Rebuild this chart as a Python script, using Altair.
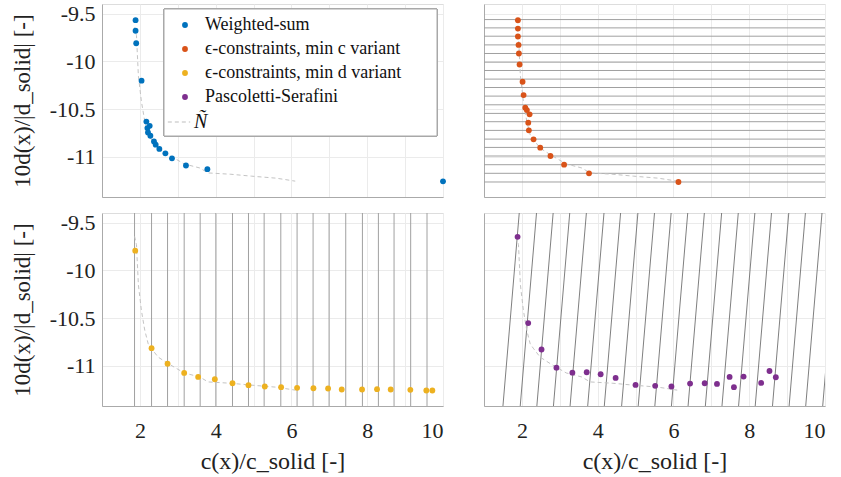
import altair as alt
import pandas as pd

FONT = "Liberation Serif"

methods = ["Weighted-sum", "ϵ-constraints, min c variant",
           "ϵ-constraints, min d variant", "Pascoletti-Serafini"]
method_colors = ["#0072BD", "#D95319", "#EDB120", "#7E2F8E"]

# Weighted-sum
ws_x = [1.886, 1.886, 1.903, 2.044, 2.171, 2.259, 2.198, 2.214, 2.277, 2.372, 2.417,
        2.514, 2.673, 2.847, 3.216, 3.781, 10.0]
ws_y = [-9.569, -9.680, -9.811, -10.202, -10.631, -10.675, -10.699, -10.745, -10.779,
        -10.838, -10.872, -10.917, -10.963, -11.015, -11.090, -11.129, -11.256]

# eps-constraints, min c
ec_x = [1.895, 1.895, 1.895, 1.912, 1.921, 1.939, 2.018, 2.045, 2.089, 2.132, 2.203,
        2.168, 2.184, 2.308, 2.484, 2.754, 3.114, 3.772, 6.132]
ec_y = [-9.570, -9.657, -9.740, -9.828, -9.918, -10.033, -10.214, -10.353, -10.486,
        -10.510, -10.555, -10.642, -10.722, -10.816, -10.904, -10.991, -11.082, -11.172,
        -11.263]
ec_levels = [-9.563, -9.650, -9.737, -9.828, -9.918, -10.009, -10.096, -10.186, -10.274,
             -10.364, -10.455, -10.545, -10.632, -10.723, -10.814, -10.901, -10.991,
             -11.082, -11.172, -11.263]

# eps-constraints, min d
ed_x = [1.877, 2.308, 2.730, 3.169, 3.538, 3.978, 4.444, 4.866, 5.297, 5.727, 6.149,
        6.580, 6.967, 7.327, 7.864, 8.259, 8.620, 9.138, 9.560, 9.719]
ed_y = [-9.794, -10.815, -10.978, -11.074, -11.116, -11.140, -11.182, -11.202, -11.216,
        -11.223, -11.230, -11.234, -11.237, -11.247, -11.247, -11.244, -11.247, -11.251,
        -11.258, -11.258]
ed_levels = [1.859, 2.308, 2.730, 3.169, 3.591, 4.004, 4.444, 4.866, 5.279, 5.719, 6.149,
             6.571, 6.993, 7.433, 7.873, 8.295, 8.708, 9.147, 9.578]

# Pascoletti-Serafini
ps_x = [1.886, 2.167, 2.518, 2.912, 3.333, 3.711, 4.079, 4.474, 5.000, 5.518, 5.947,
        6.439, 6.825, 7.149, 7.482, 7.596, 7.851, 8.316, 8.535, 8.702]
ps_y = [-9.649, -10.552, -10.829, -11.019, -11.071, -11.067, -11.088, -11.126, -11.199,
        -11.209, -11.216, -11.185, -11.182, -11.189, -11.116, -11.223, -11.112, -11.178,
        -11.054, -11.119]
ps_line_x0 = [1.500, 1.956, 2.395, 2.833, 3.272, 3.737, 4.175, 4.632, 5.070, 5.509, 5.947,
              6.386, 6.842, 7.281, 7.719, 8.158, 8.614, 9.053, 9.491, 9.939]
ps_line_x1 = [1.930, 2.386, 2.825, 3.263, 3.702, 4.167, 4.605, 5.062, 5.500, 5.939, 6.377,
              6.816, 7.272, 7.711, 8.149, 8.588, 9.044, 9.483, 9.921, 10.369]
ps_line_y0 = -11.42
ps_line_y1 = -9.40

# Approximated Pareto front N~
nt_x = [1.86, 1.91, 1.96, 2.04, 2.13, 2.22, 2.30, 2.48, 2.75, 3.17, 3.58, 3.80, 4.40,
        4.95, 5.60, 6.10]
nt_y = [-9.645, -9.73, -10.15, -10.42, -10.63, -10.77, -10.815, -10.908, -10.977,
        -11.074, -11.116, -11.168, -11.182, -11.202, -11.223, -11.254]
nt_name = "Ñ"

x_ticks = [1, 2, 3, 4, 5, 6, 7, 8, 9, 10]
y_ticks = [-11, -10.5, -10, -9.5]
x_title = "c(x)/c_solid [-]"
y_title = "10d(x)/|d_solid| [-]"

front_df = pd.DataFrame({"x": nt_x, "y": nt_y, "o": list(range(len(nt_x))),
                         "series": [nt_name] * len(nt_x)})

W, H = 341, 193
X_SCALE = alt.Scale(domain=[1, 10], nice=False, zero=False)
Y_SCALE = alt.Scale(domain=[-11.42, -9.40], nice=False, zero=False)

color_enc = alt.Color(
    "method:N",
    scale=alt.Scale(domain=methods, range=method_colors),
    legend=alt.Legend(orient="none", legendX=74, legendY=12, title=None,
                      labelFontSize=18, labelFont=FONT, symbolType="circle",
                      symbolSize=34, symbolStrokeWidth=0, labelOffset=11,
                      rowPadding=6, padding=0, labelLimit=400, labelColor="#111111"),
)
dash_enc = alt.StrokeDash(
    "series:N",
    scale=alt.Scale(domain=[nt_name], range=[[4, 3]]),
    legend=alt.Legend(orient="none", legendX=65, legendY=106, title=None,
                      labelFontSize=20, labelFont=FONT, labelFontStyle="italic",
                      symbolType="stroke", symbolSize=500, symbolStrokeColor="#bdbdbd",
                      symbolStrokeWidth=1, labelOffset=3, padding=0,
                      labelColor="#111111"),
)


def x_axis(show):
    return alt.Axis(values=x_ticks, grid=True, ticks=False, labels=show,
                    title=x_title if show else None,
                    labelExpr="datum.value % 2 == 0 ? format(datum.value, '') : ''",
                    labelFontSize=22, labelFont=FONT, labelPadding=14,
                    titleFontSize=24, titleFont=FONT, titleFontWeight="normal",
                    titlePadding=8, domainColor="#aaaaaa", gridColor="#ebebeb",
                    labelColor="#222222", titleColor="#222222")


def y_axis(show):
    return alt.Axis(values=y_ticks, grid=True, ticks=False, labels=show,
                    title=y_title if show else None,
                    labelExpr="'-' + format(-datum.value, '')",
                    labelFontSize=22, labelFont=FONT, labelPadding=7,
                    minExtent=58 if show else 0, maxExtent=58 if show else 0,
                    titleFontSize=23, titleFont=FONT, titleFontWeight="normal",
                    titlePadding=10, domainColor="#aaaaaa", gridColor="#ebebeb",
                    labelColor="#222222", titleColor="#222222")


def panel(name, px, py, extra, show_x, show_y, frame=False):
    pts = pd.DataFrame({"x": px, "y": py, "method": [name] * len(px)})
    xe = alt.X("x:Q", scale=X_SCALE, axis=x_axis(show_x))
    ye = alt.Y("y:Q", scale=Y_SCALE, axis=y_axis(show_y))
    base_line = alt.Chart(front_df).mark_line(color="#c4c4c4", strokeWidth=1).encode(
        x=xe, y=ye, order="o:Q", strokeDash=dash_enc)
    points = alt.Chart(pts).mark_circle(size=34, opacity=1).encode(
        x=xe, y=ye, color=color_enc)
    layers = list(extra) + [base_line, points]
    if frame:
        layers.append(alt.Chart(pts).mark_rect(fill="white", stroke="#a8a8a8",
                                               strokeWidth=1).encode(
            x=alt.value(62), x2=alt.value(335), y=alt.value(5), y2=alt.value(132)))
    return alt.layer(*layers).properties(width=W, height=H)


h_df = pd.DataFrame({"y": ec_levels})
h_rules = alt.Chart(h_df).mark_rule(color="#a0a0a0", strokeWidth=1).encode(
    y=alt.Y("y:Q", scale=Y_SCALE, axis=y_axis(False)))

v_df = pd.DataFrame({"x": ed_levels})
v_rules = alt.Chart(v_df).mark_rule(color="#a0a0a0", strokeWidth=1).encode(
    x=alt.X("x:Q", scale=X_SCALE, axis=x_axis(True)))

d_df = pd.DataFrame({"x0": ps_line_x0, "x1": ps_line_x1,
                     "y0": [ps_line_y0] * len(ps_line_x0),
                     "y1": [ps_line_y1] * len(ps_line_x0)})
d_rules = alt.Chart(d_df).mark_rule(color="#707070", strokeWidth=0.9, clip=True).encode(
    x=alt.X("x0:Q", scale=X_SCALE, axis=x_axis(True)),
    x2="x1:Q",
    y=alt.Y("y0:Q", scale=Y_SCALE, axis=y_axis(False)),
    y2="y1:Q")

tl = panel(methods[0], ws_x, ws_y, [], False, True, frame=True)
tr = panel(methods[1], ec_x, ec_y, [h_rules], False, False)
bl = panel(methods[2], ed_x, ed_y, [v_rules], True, True)
br = panel(methods[3], ps_x, ps_y, [d_rules], True, False)

chart = alt.concat(tl, tr, bl, br, columns=2, spacing={"row": 16, "column": 41},
                   bounds="flush").properties(
    padding={"left": 10, "top": 2, "right": 10, "bottom": 3}
).configure_view(stroke=None).configure(font=FONT)

chart.save("out.html", embed_options={"renderer": "svg", "actions": False})
